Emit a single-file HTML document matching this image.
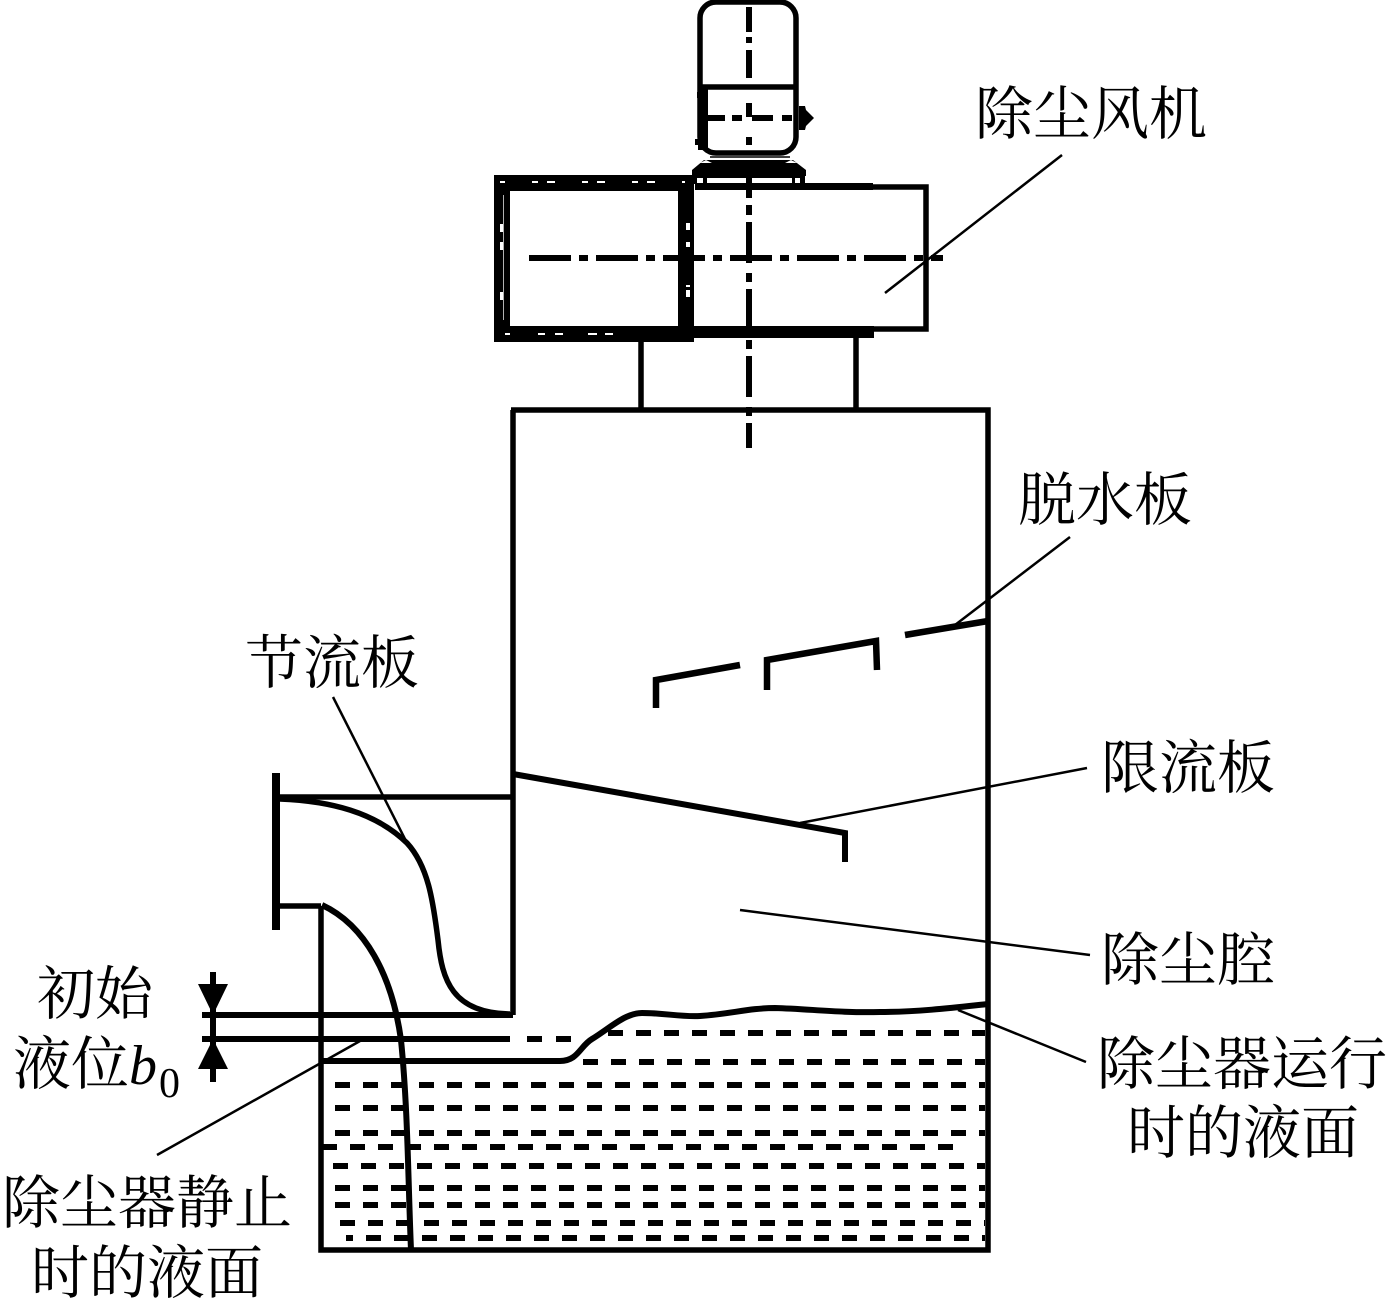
<!DOCTYPE html>
<html><head><meta charset="utf-8"><style>
html,body{margin:0;padding:0;background:#fff}
svg{display:block}
text{font-family:"Liberation Serif","Noto Serif CJK SC",serif;font-size:58px;fill:#000}
</style></head><body>
<svg width="1388" height="1301" viewBox="0 0 1388 1301" xmlns="http://www.w3.org/2000/svg">
<rect width="1388" height="1301" fill="#fff"/>
<g fill="none" stroke="#000" stroke-width="5.5">
<!-- motor -->
<rect x="700" y="2" width="96" height="151" rx="16"/>
<path d="M700 87H797"/>
<path d="M703 87V150" stroke-width="10"/>
<path d="M697 95H704M695 142H704" stroke-width="6"/>
<path d="M707 118H725M732 118H742M752 118H773M782 118H792" stroke-width="6"/>
<!-- fan -->
<rect x="502" y="183" width="184" height="151" stroke-width="16"/>
<path d="M686 183V338" stroke-width="15"/>
<path d="M695 187H926V329H695" stroke-width="5.5"/>
<path d="M695 186.500H873" stroke-width="7"/>
<path d="M690 332H874" stroke-width="12"/>
<path d="M641 338V410M856 338V410"/>
<!-- centre lines -->
<g stroke-width="6">
<path d="M749 7V32M749 37V43M749 50V78M749 103V117M749 137V145M749 178V198M749 205V215"/>
<path d="M749 222V448" stroke-dasharray="41 10 9 7"/>
<path d="M529 258H943" stroke-dasharray="42 8 9 8"/>
</g>
<!-- body -->
<path d="M511 410H988V1250H321V906M276 797H513M513 410V1015M276 906H321"/>
<path d="M276 773V930" stroke-width="8"/>
<!-- plates -->
<path d="M656 708V680L740 665M767 690V660L876 641L877 670M905 635L988 621" stroke-width="6.500"/>
<path d="M513 774L845 833V862" stroke-width="6"/>
<!-- duct curves -->
<path d="M280 799C330 801 375 812 407 843C428 866 433 900 438 940C442 980 452 1013 510 1014"/>
<path d="M322 905C365 925 392 975 401 1040C408 1110 408 1180 411 1250" stroke-width="6"/>
<!-- static level lines -->
<path d="M202 1015H513M202 1039H510" stroke-width="6"/>
<path d="M321 1061H560C578 1061 580 1046 592 1039C610 1028 625 1013 642 1013C665 1013 680 1017 700 1016C730 1014 750 1008 775 1008C810 1009 840 1013 880 1012C920 1012 960 1007 988 1004" stroke-width="6"/>
<path d="M527 1039H572" stroke-width="6" stroke-dasharray="15 14"/>
<path d="M213 972V1082" stroke-width="6"/>
<!-- liquid dashes -->
<g stroke-width="6" stroke-dasharray="15 13">
<path d="M608 1033H985"/>
<path d="M583 1062H985"/>
<path d="M335 1085H985"/>
<path d="M335 1108H985"/>
<path d="M335 1133H985"/>
<path d="M322 1147H953"/>
<path d="M333 1166H985"/>
<path d="M335 1188H985"/>
<path d="M335 1205H985"/>
<path d="M340 1223H985"/>
<path d="M366 1238H985"/>
</g>
<path d="M346 1238H353" stroke-width="6"/>
<!-- leaders -->
<g stroke-width="2.500">
<path d="M1062 155L885 293"/>
<path d="M1070 537L955 625"/>
<path d="M333 697L407 843"/>
<path d="M1087 768L800 823"/>
<path d="M740 910L1090 955"/>
<path d="M958 1010L1086 1062"/>
<path d="M360 1041L157 1155"/>
</g>
</g>
<!-- motor base -->
<path d="M692 176V170L704 160H793L806 170V176Z" fill="#000"/>
<path d="M700 163L706 160L712 163Z M785 163L791 160L797 163Z" fill="#fff"/>
<path d="M710 157H790" stroke="#000" stroke-width="1.500"/>
<path d="M692 175H697V184H692Z M703 175H707V184H703Z M792 175H795V184H792Z M800 175H805V184H800Z M697 175H800V178H697Z" fill="#000"/>
<!-- fan white dashes -->
<g fill="#fff">
<path d="M500 181h5v2h-5z M532 181h6v2h-6z M547 181h8v2h-8z M582 181h6v2h-6z M597 181h8v2h-8z M632 181h6v2h-6z M647 181h8v2h-8z M682 181h3v2h-3z"/>
<path d="M505 333h5v2h-5z M538 333h7v2h-7z M555 333h8v2h-8z M588 333h9v2h-9z M605 333h8v2h-8z"/>
<path d="M503 195h0.700v125h-0.700z M500 224h3v8h-3z M500 242h3v8h-3z M500 292h3v8h-3z"/>
<path d="M686 223h4v7h-4z M686 242h4v5h-4z M686 285h4v2h-4z M686 290h4v7h-4z"/>
</g>
<path d="M814 118L806 110L805 106H799V130H805L806 126Z M198 984H228L213 1015Z M198 1069H228L213 1039Z" fill="#000"/>
<text x="975" y="134">除尘风机</text>
<text x="1018" y="520">脱水板</text>
<text x="245" y="683">节流板</text>
<text x="1101" y="788">限流板</text>
<text x="1101" y="980">除尘腔</text>
<text x="1097" y="1084">除尘器运行</text>
<text x="1127" y="1153">时的液面</text>
<text x="2" y="1223">除尘器静止</text>
<text x="31" y="1293">时的液面</text>
<text x="37" y="1014">初始</text>
<text x="13" y="1084">液位<tspan font-style="italic" font-size="56">b</tspan><tspan font-size="42" dx="2" dy="13">0</tspan></text>
</svg>
</body></html>
